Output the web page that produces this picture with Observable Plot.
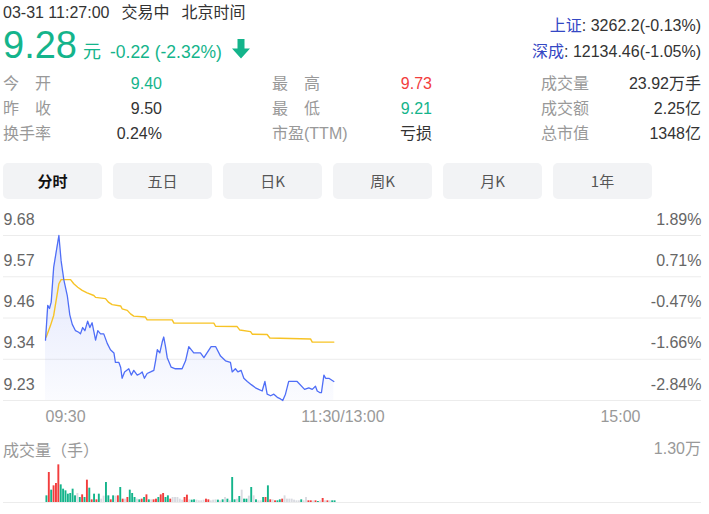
<!DOCTYPE html>
<html><head><meta charset="utf-8">
<script src="https://cdn.jsdelivr.net/npm/d3@7"></script>
<script src="https://cdn.jsdelivr.net/npm/@observablehq/plot@0.6"></script>
<style>
body{margin:0;background:#fff;font-family:"Liberation Sans",Arial,"Noto Sans CJK SC",sans-serif;}
#root{position:relative;width:709px;height:514px;overflow:hidden;background:#fff;}
.abs{position:absolute;white-space:nowrap;}
.t16{font-size:16px;line-height:20px;}
.tab{position:absolute;top:163px;width:99px;height:36px;line-height:36px;background:#f2f3f5;border-radius:5px;text-align:center;font-size:15px;color:#555;font-family:"Noto Sans CJK SC","Liberation Sans",sans-serif;}
.lbl2{display:inline-block;width:48px;text-align:justify;text-align-last:justify;}
svg.plot{position:absolute;left:0;}
</style></head><body><div id="root"></div>
<script>
// ---------- data ----------
const headerTime = "03-31 11:27:00";
const headerStatus = ["交易中", "北京时间"];
const lastPrice = "9.28";
const priceUnit = "元";
const priceChange = "-0.22 (-2.32%)";
const indexNames = ["上证", "深成"];
const indexValues = [": 3262.2(-0.13%)", ": 12134.46(-1.05%)"];
const statLabels = [["今开", "昨收", "换手率"], ["最高", "最低", "市盈(TTM)"], ["成交量", "成交额", "总市值"]];
const statValues = [["9.40", "9.50", "0.24%"], ["9.73", "9.21", "亏损"], ["23.92万手", "2.25亿", "1348亿"]];
const tabs = ["分时", "五日", "日K", "周K", "月K", "1年"];
const gridPrices = [9.73, 9.60, 9.47, 9.34, 9.21];
const priceLabels = ["9.68", "9.57", "9.46", "9.34", "9.23"];
const pctLabels = ["1.89%", "0.71%", "-0.47%", "-1.66%", "-2.84%"];
const timeTicks = [0, 120, 240];
const timeLabels = ["09:30", "11:30/13:00", "15:00"];
const volumeTitle = "成交量（手）";
const volumeMaxLabel = "1.30万";
const volumeMax = 13000;
// [minutes since 09:30, price]
const pricePoints = [[0,9.40],[0.9,9.51],[1.6,9.50],[2.3,9.52],[3.3,9.63],[5.4,9.73],[6.3,9.65],[7.4,9.59],[8.8,9.54],[9.8,9.48],[10.8,9.45],[12.1,9.43],[13.4,9.425],[14.1,9.42],[15,9.44],[15.9,9.43],[17,9.46],[17.9,9.44],[18.8,9.455],[20.2,9.40],[21.1,9.43],[22.2,9.42],[23.5,9.42],[24.9,9.39],[26.2,9.37],[27.6,9.36],[28.2,9.33],[29.6,9.33],[30.3,9.315],[30.9,9.28],[31.9,9.30],[33.6,9.31],[34.6,9.29],[35.6,9.305],[37,9.29],[38.3,9.295],[39,9.30],[39.9,9.28],[41,9.295],[42.4,9.30],[43.7,9.305],[44.4,9.335],[45.1,9.37],[46.1,9.36],[47.1,9.395],[47.7,9.41],[48.4,9.38],[49.1,9.345],[50.7,9.315],[52.4,9.31],[55.1,9.31],[56.5,9.335],[57.8,9.38],[59.8,9.36],[62.5,9.36],[63.9,9.345],[66.8,9.38],[68.6,9.38],[70.6,9.35],[72.6,9.335],[74.6,9.33],[75.3,9.30],[76.6,9.31],[77.6,9.30],[78.9,9.305],[80,9.28],[81.4,9.27],[83,9.26],[84.7,9.25],[86,9.245],[87.4,9.24],[88.5,9.27],[89.4,9.23],[90.8,9.225],[92.1,9.23],[93.5,9.22],[94.8,9.215],[95.7,9.21],[96.8,9.23],[98.1,9.27],[101.5,9.27],[104.5,9.245],[106.2,9.25],[107.6,9.245],[108.9,9.255],[109.6,9.24],[110.6,9.235],[111.3,9.235],[112.3,9.29],[113,9.28],[114.3,9.28],[116.3,9.27]];
// [minutes since 09:30, average price]
const avgPoints = [[0.3,9.41],[2,9.446],[3.3,9.478],[4.4,9.53],[5.4,9.578],[6.3,9.591],[10.1,9.591],[11.4,9.578],[13,9.567],[14.8,9.557],[16.8,9.549],[19.5,9.541],[20.2,9.535],[24.2,9.531],[25.5,9.519],[26.9,9.512],[30.3,9.508],[30.9,9.499],[33,9.494],[34.3,9.483],[35.6,9.476],[40.3,9.473],[41,9.464],[51.1,9.464],[51.8,9.454],[67.9,9.454],[68.6,9.444],[77.3,9.443],[78.4,9.432],[82.7,9.427],[83.4,9.419],[89.4,9.418],[90.5,9.407],[106.9,9.404],[107.6,9.394],[116.3,9.394]];
// [volume (手), direction u=up d=down f=flat]
const volumeBars = [[2280,"d"],[10260,"u"],[4220,"d"],[5700,"u"],[6500,"u"],[12880,"u"],[6040,"d"],[4560,"d"],[3990,"d"],[2850,"d"],[3080,"d"],[4560,"d"],[2280,"d"],[3080,"f"],[1710,"d"],[2620,"u"],[1710,"d"],[7640,"u"],[4900,"d"],[910,"u"],[2850,"d"],[910,"u"],[2850,"d"],[1140,"f"],[2170,"f"],[6840,"d"],[2280,"d"],[910,"u"],[2280,"d"],[2170,"f"],[2280,"u"],[5130,"d"],[1140,"u"],[1140,"f"],[1710,"u"],[4220,"d"],[3080,"d"],[1710,"d"],[1140,"f"],[910,"d"],[1140,"u"],[1710,"d"],[2620,"u"],[910,"d"],[910,"f"],[910,"u"],[1140,"u"],[1710,"d"],[2620,"u"],[3080,"u"],[1710,"d"],[2280,"d"],[1140,"u"],[1710,"f"],[1710,"f"],[1710,"f"],[1140,"f"],[800,"f"],[1710,"u"],[2510,"u"],[910,"f"],[800,"d"],[910,"d"],[800,"f"],[570,"f"],[570,"f"],[800,"f"],[1140,"u"],[910,"u"],[570,"f"],[800,"f"],[910,"f"],[800,"d"],[570,"f"],[910,"d"],[1710,"f"],[1140,"d"],[570,"f"],[8550,"d"],[910,"d"],[1140,"f"],[2050,"d"],[4220,"f"],[1140,"d"],[1140,"d"],[2170,"f"],[5130,"d"],[2280,"f"],[910,"d"],[570,"f"],[570,"f"],[1710,"d"],[1710,"u"],[5700,"d"],[910,"u"],[910,"f"],[570,"u"],[570,"d"],[910,"d"],[1140,"u"],[2280,"f"],[1140,"f"],[1140,"f"],[1140,"f"],[800,"f"],[570,"f"],[570,"f"],[910,"d"],[570,"f"],[1710,"f"],[570,"u"],[570,"u"],[570,"f"],[570,"u"],[340,"d"],[570,"f"],[1370,"u"],[570,"f"],[570,"u"],[570,"f"],[570,"d"],[570,"d"]];

// ---------- styles ----------
const GREEN = "#14b48b", RED = "#f23d3d", BLUE = "#4f6ef7", YELLOW = "#f7c325";
const root = document.getElementById("root");
function el(html, css, cls) {
  const d = document.createElement("div");
  d.className = "abs " + (cls || "");
  d.style.cssText = css;
  d.innerHTML = html;
  root.appendChild(d);
  return d;
}
// header
el(`${headerTime}<span style="margin-left:12px">${headerStatus[0]}</span><span style="margin-left:12px">${headerStatus[1]}</span>`,
   "left:3px;top:3px;color:#333;", "t16");
el(`<span style="font-size:38px">${lastPrice}</span><span style="font-size:18px;margin-left:6px;font-family:'Noto Sans CJK SC'">${priceUnit}</span><span style="font-size:17.5px;margin-left:9px">${priceChange}</span>`,
   `left:3px;top:26px;line-height:38px;color:${GREEN};`);
el(`<svg width="18" height="20" viewBox="0 0 18 20"><path d="M5.5 0h7v9.5h5.5l-9 10-9-10h5.5z" fill="${GREEN}"/></svg>`,
   "left:232px;top:39px;line-height:0;");
indexNames.forEach((n, i) => {
  el(`<span style="color:#3447c4">${n}</span>${indexValues[i]}`,
     `right:8px;top:${16 + i * 26}px;color:#333;`, "t16");
});
// stats
const statLabelX = [3, 272, 541], statValueRight = [547, 277, 8];
const statColors = [[GREEN, "#333", "#333"], [RED, GREEN, "#333"], ["#333", "#333", "#333"]];
statLabels.forEach((col, c) => col.forEach((lab, r) => {
  const inner = lab.length === 2 ? `<span class="lbl2">${lab}</span>` : lab;
  el(inner, `left:${statLabelX[c]}px;top:${74 + r * 25}px;color:#999;`, "t16");
  el(statValues[c][r], `right:${statValueRight[c]}px;top:${74 + r * 25}px;color:${statColors[c][r]};`, "t16");
}));
// tabs
tabs.forEach((t, i) => {
  const d = document.createElement("div");
  d.className = "tab";
  d.style.left = (3 + i * 110) + "px";
  if (i === 0) { d.style.color = "#111"; d.style.fontWeight = "bold"; }
  d.textContent = t;
  root.appendChild(d);
});

// ---------- price chart ----------
const priceData = pricePoints.map(([m, p]) => ({m, p}));
const avgData = avgPoints.map(([m, p]) => ({m, p}));
const yDomain = [d3.min(gridPrices), d3.max(gridPrices)];
const anchors = ["start", "middle", "end"];
const fontStyle = {fontFamily: '"Liberation Sans", Arial, "Noto Sans CJK SC", sans-serif', fontSize: "16px", background: "transparent", overflow: "visible"};
const pricePlot = Plot.plot({
  width: 709, height: 222,
  marginLeft: 3, marginRight: 8, marginTop: 0, marginBottom: 0,
  x: {domain: [0, 240], range: [45, 640], axis: null},
  y: {domain: yDomain, range: [195, 30], axis: null},
  style: fontStyle,
  marks: [
    Plot.ruleY(gridPrices, {stroke: "#ececec", strokeWidth: 1}),
    Plot.areaY(priceData, {x: "m", y1: yDomain[0], y2: "p", fill: "url(#pgrad)"}),
    Plot.lineY(avgData, {x: "m", y: "p", stroke: YELLOW, strokeWidth: 1.4}),
    Plot.lineY(priceData, {x: "m", y: "p", stroke: BLUE, strokeWidth: 1.3}),
    Plot.text(gridPrices, {y: d => d, text: (d, i) => priceLabels[i], frameAnchor: "left", textAnchor: "start", dy: -16, fill: "#666"}),
    Plot.text(gridPrices, {y: d => d, text: (d, i) => pctLabels[i], frameAnchor: "right", textAnchor: "end", dy: -16, fill: "#666"}),
    ...timeTicks.map((t, i) => Plot.text([t], {x: d => d, y: yDomain[0], text: () => timeLabels[i], textAnchor: anchors[i], dy: 16, fill: "#999"}))
  ]
});
pricePlot.classList.add("plot");
pricePlot.style.top = "205px";
const defs = d3.select(pricePlot).insert("defs", ":first-child");
const grad = defs.append("linearGradient").attr("id", "pgrad").attr("x1", 0).attr("y1", 0).attr("x2", 0).attr("y2", 1);
grad.append("stop").attr("offset", 0).attr("stop-color", "#6a84f2").attr("stop-opacity", 0.22);
grad.append("stop").attr("offset", 1).attr("stop-color", "#6a84f2").attr("stop-opacity", 0.03);
root.appendChild(pricePlot);

// ---------- volume ----------
el(volumeTitle, "left:3px;top:439px;color:#999;font-family:'Noto Sans CJK SC';", "t16");
el(volumeMaxLabel, "right:8px;top:439px;color:#999;", "t16");
const volData = volumeBars.map(([v, d], i) => ({i, v, d}));
const volPlot = Plot.plot({
  width: 709, height: 57,
  marginLeft: 3, marginRight: 8, marginTop: 0, marginBottom: 0,
  x: {type: "band", domain: d3.range(volData.length), range: [45, 336], padding: 0.2, axis: null},
  y: {domain: [0, volumeMax], range: [47, 9], axis: null},
  color: {domain: ["u", "d", "f"], range: [RED, GREEN, "#d9dbe1"]},
  style: fontStyle,
  marks: [
    Plot.ruleY([0], {stroke: "#ececec"}),
    Plot.barY(volData, {x: "i", y: "v", fill: "d"})
  ]
});
volPlot.classList.add("plot");
volPlot.style.top = "455px";
root.appendChild(volPlot);
</script></body></html>
